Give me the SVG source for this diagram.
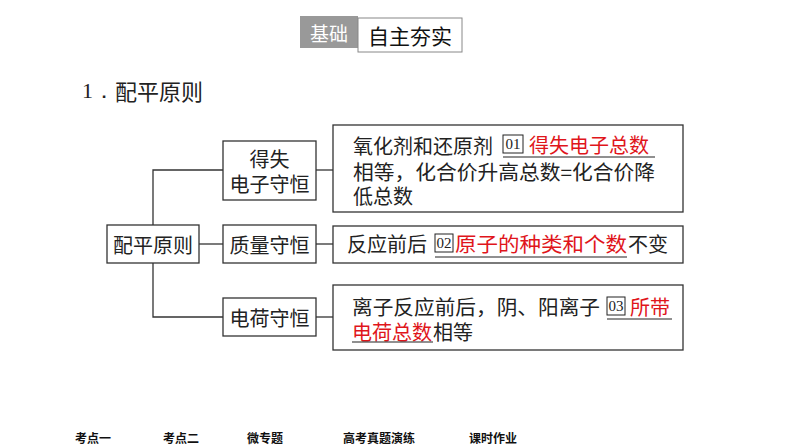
<svg xmlns="http://www.w3.org/2000/svg" width="794" height="447" viewBox="0 0 794 447">
<style>
.t{font-family:"Noto Sans CJK SC","Noto Sans",sans-serif;font-size:20px;fill:#222;dominant-baseline:central}
.r{fill:#e0151b}
.box{fill:#fff;stroke:#333;stroke-width:1.3}
.ln{stroke:#333;stroke-width:1.3;fill:none}
.ul{stroke:#222;stroke-width:1.2}
.num{font-family:"Liberation Serif",serif;font-size:15px;fill:#222;dominant-baseline:central}
.nb{fill:none;stroke:#222;stroke-width:1}
.f{font-family:"Noto Sans CJK SC",sans-serif;font-size:12px;font-weight:bold;fill:#111;dominant-baseline:central}
</style>
<rect width="794" height="447" fill="#fff"/>
<g id="header">
<rect x="300" y="16" width="58" height="32" fill="#999"/>
<text x="329" y="32" class="t" style="fill:#fff;font-size:19px" text-anchor="middle">基础</text>
<rect x="358" y="18" width="104" height="34" fill="#fff" stroke="#888" stroke-width="1"/>
<text x="410" y="35" class="t" style="fill:#111;font-size:21px" text-anchor="middle">自主夯实</text>
</g>
<g id="title">
<text x="82" y="90" class="t" style="font-size:22px"><tspan font-family="Liberation Serif">1．</tspan>配平原则</text>
</g>
<g id="connectors">
<polyline class="ln" points="223,170 153,170 153,317 223,317"/>
<line class="ln" x1="199" y1="244" x2="223" y2="244"/>
<line class="ln" x1="316" y1="170" x2="333" y2="170"/>
<line class="ln" x1="316" y1="244" x2="333" y2="244"/>
<line class="ln" x1="316" y1="317" x2="333" y2="317"/>
</g>
<g id="root">
<rect class="box" x="107" y="225" width="92" height="38"/>
<text class="t" x="153" y="244" text-anchor="middle">配平原则</text>
</g>
<g id="n1">
<rect class="box" x="223" y="141" width="93" height="59"/>
<text class="t" x="269.5" y="158" text-anchor="middle">得失</text>
<text class="t" x="269.5" y="183" text-anchor="middle">电子守恒</text>
</g>
<g id="n2">
<rect class="box" x="223" y="225" width="93" height="38"/>
<text class="t" x="269.5" y="244" text-anchor="middle">质量守恒</text>
</g>
<g id="n3">
<rect class="box" x="223" y="298" width="93" height="38"/>
<text class="t" x="269.5" y="317" text-anchor="middle">电荷守恒</text>
</g>
<g id="d1">
<rect class="box" x="333" y="125" width="350" height="87"/>
<text class="t" x="353" y="145">氧化剂和还原剂</text>
<rect class="nb" x="503" y="135" width="20" height="18"/>
<text class="num" x="513" y="144" text-anchor="middle">01</text>
<text class="t r" x="529" y="144">得失电子总数</text>
<line class="ul" x1="503" y1="157" x2="655" y2="157"/>
<text class="t" x="353" y="171" textLength="302" lengthAdjust="spacingAndGlyphs">相等，化合价升高总数=化合价降</text>
<text class="t" x="353" y="195">低总数</text>
</g>
<g id="d2">
<rect class="box" x="333" y="226" width="350" height="37"/>
<text class="t" x="347" y="243">反应前后</text>
<rect class="nb" x="435" y="234" width="18" height="18"/>
<text class="num" x="444" y="243" text-anchor="middle">02</text>
<text class="t r" x="455" y="243" textLength="172" lengthAdjust="spacingAndGlyphs">原子的种类和个数</text>
<text class="t" x="628" y="243">不变</text>
<line class="ul" x1="435" y1="257" x2="627" y2="257"/>
</g>
<g id="d3">
<rect class="box" x="333" y="285" width="350" height="65"/>
<text class="t" x="352" y="306" textLength="248" lengthAdjust="spacingAndGlyphs">离子反应前后，阴、阳离子</text>
<rect class="nb" x="607" y="297" width="18" height="18"/>
<text class="num" x="616" y="306" text-anchor="middle">03</text>
<text class="t r" x="630" y="306">所带</text>
<line class="ul" x1="607" y1="319" x2="672" y2="319"/>
<text class="t r" x="352" y="331">电荷总数</text>
<text class="t" x="433" y="331">相等</text>
<line class="ul" x1="352" y1="342" x2="433" y2="342"/>
</g>
<g id="footer">
<text class="f" x="75" y="437">考点一</text>
<text class="f" x="163" y="437">考点二</text>
<text class="f" x="247" y="437">微专题</text>
<text class="f" x="343" y="437">高考真题演练</text>
<text class="f" x="469" y="437">课时作业</text>
</g>
</svg>
